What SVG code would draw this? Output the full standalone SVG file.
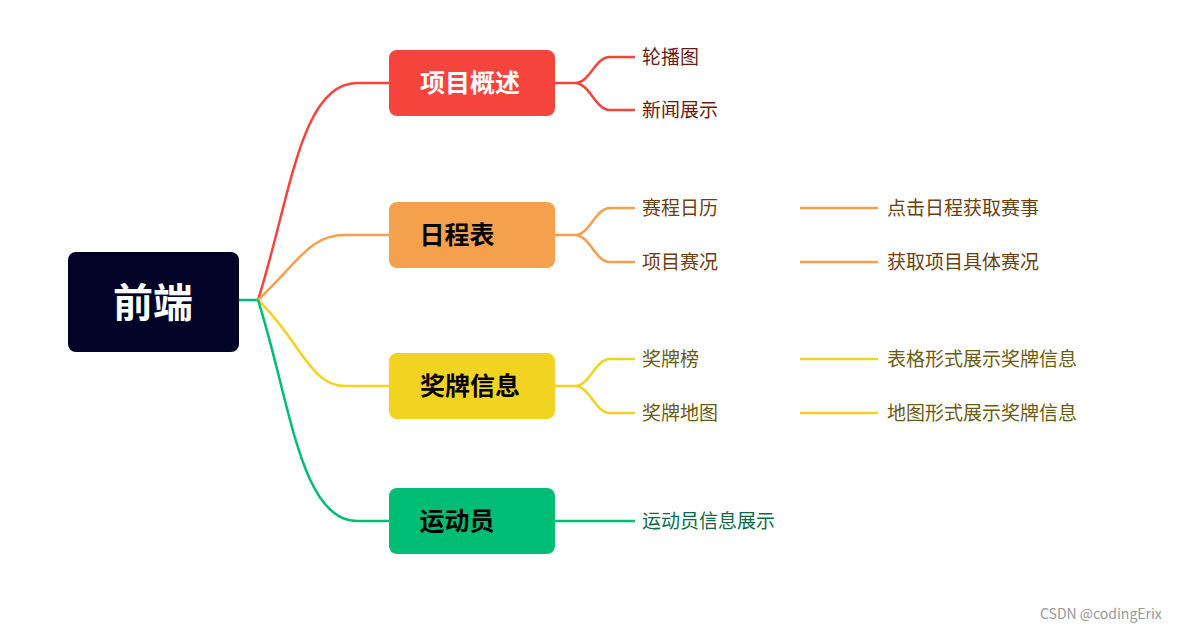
<svg xmlns="http://www.w3.org/2000/svg" width="1187" height="633" viewBox="0 0 1187 633">
<style>
text{font-family:"Noto Sans CJK SC","Liberation Sans",sans-serif}
.b{font-size:25px;font-weight:bold}
.l{font-size:19px}
.c path{fill:none;stroke-width:2.5}
</style>
<rect width="1187" height="633" fill="#fff"/>
<g class="c" id="connectors">
<path d="M239 300 H258" stroke="#00BD75"/>
<path d="M258 300 C290 200 300 83 357 83 H389" stroke="#F5443C"/>
<path d="M258 300 C300 260 310 235 345 235 H389" stroke="#F5A04D"/>
<path d="M258 300 C300 340 310 386 345 386 H389" stroke="#F2D321"/>
<path d="M258 300 C290 400 300 521 357 521 H389" stroke="#00BD75"/>
<path d="M555 83 H575 C590 83 595 57 610 57 H635 M575 83 C590 83 595 110 610 110 H635" stroke="#F5443C"/>
<path d="M555 235 H575 C590 235 595 208 610 208 H635 M575 235 C590 235 595 262 610 262 H635 M800 208 H878 M800 262 H878" stroke="#F5A04D"/>
<path d="M555 386 H575 C590 386 595 359 610 359 H635 M575 386 C590 386 595 413 610 413 H635 M800 359 H878 M800 413 H878" stroke="#F2D321"/>
<path d="M555 521 H635" stroke="#00BD75"/>
</g>
<g id="root"><rect x="68" y="252" width="171" height="100" rx="8" fill="#020326"/><text x="153" y="317" text-anchor="middle" fill="#fff" font-size="40" font-weight="bold">前端</text></g>
<g id="n1"><rect x="389" y="50" width="166" height="66" rx="8" fill="#F5443C"/><text x="470" y="92" text-anchor="middle" class="b" fill="#fff">项目概述</text></g>
<g id="n2"><rect x="389" y="202" width="166" height="66" rx="8" fill="#F5A04D"/><text x="457" y="244" text-anchor="middle" class="b" fill="#000">日程表</text></g>
<g id="n3"><rect x="389" y="353" width="166" height="66" rx="8" fill="#F2D321"/><text x="470" y="395" text-anchor="middle" class="b" fill="#000">奖牌信息</text></g>
<g id="n4"><rect x="389" y="488" width="166" height="66" rx="8" fill="#00BD75"/><text x="457" y="530" text-anchor="middle" class="b" fill="#000">运动员</text></g>
<g class="l">
<text x="642" y="64" class="l" fill="#6B1A10">轮播图</text>
<text x="642" y="117" class="l" fill="#6B1A10">新闻展示</text>
<text x="642" y="215" class="l" fill="#6B4010">赛程日历</text>
<text x="642" y="269" class="l" fill="#6B4010">项目赛况</text>
<text x="887" y="215" class="l" fill="#6B4010">点击日程获取赛事</text>
<text x="887" y="269" class="l" fill="#6B4010">获取项目具体赛况</text>
<text x="642" y="366" class="l" fill="#6B5B10">奖牌榜</text>
<text x="642" y="420" class="l" fill="#6B5B10">奖牌地图</text>
<text x="887" y="366" class="l" fill="#6B5B10">表格形式展示奖牌信息</text>
<text x="887" y="420" class="l" fill="#6B5B10">地图形式展示奖牌信息</text>
<text x="642" y="528" class="l" fill="#0B6B45">运动员信息展示</text>
</g>
<text x="1040" y="619" font-size="14" fill="#999">CSDN @codingErix</text>
</svg>
